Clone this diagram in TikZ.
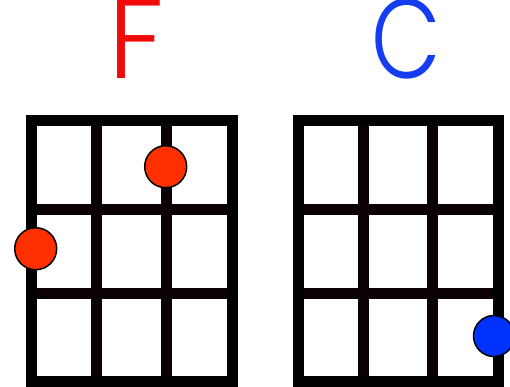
\documentclass[tikz,border=0pt]{standalone}
\usepackage{fontspec}
\newfontfamily\chordfont{Poppins Light}
\definecolor{chordred}{RGB}{240,10,10}
\definecolor{chordblue}{RGB}{20,60,240}
\definecolor{dotred}{RGB}{255,48,0}
\definecolor{dotblue}{RGB}{0,50,255}
\definecolor{gridline}{RGB}{10,0,6}
\begin{document}
\begin{tikzpicture}[x=1pt,y=1pt,
  gridstroke/.style={draw=gridline,line width=11pt},
  framestroke/.style={draw=black,line width=11pt,line join=miter},
  fingerdot/.style={circle,draw=black,line width=1.5pt,minimum size=42pt,inner sep=0pt},
  chordname/.style={font=\chordfont\fontsize{113}{113}\selectfont,inner sep=0pt,anchor=base}]
\useasboundingbox (0,0) rectangle (510,386);
% chord names
\node[chordname,text=chordred] (nameF) at (136,307) {F};
\node[chordname,text=chordblue,xscale=0.8] (nameC) at (406,307) {C};
% F grid
\draw[gridstroke] (96.5,265) -- (96.5,5);
\draw[gridstroke] (166,265) -- (166,5);
\draw[gridstroke] (31,177) -- (232.5,177);
\draw[gridstroke] (31,92.5) -- (232.5,92.5);
\draw[framestroke] (31,265) rectangle (232.5,5);
% C grid
\draw[gridstroke] (363,265) -- (363,5);
\draw[gridstroke] (432.5,265) -- (432.5,5);
\draw[gridstroke] (298,177) -- (498.5,177);
\draw[gridstroke] (298,92.5) -- (498.5,92.5);
\draw[framestroke] (298,265) rectangle (498.5,5);
% finger dots
\node[fingerdot,fill=dotred] (dotF1) at (165.7,219.3) {};
\node[fingerdot,fill=dotred] (dotF2) at (35.7,137.3) {};
\node[fingerdot,fill=dotblue,minimum size=41pt] (dotC1) at (494,50) {};
\end{tikzpicture}
\end{document}
